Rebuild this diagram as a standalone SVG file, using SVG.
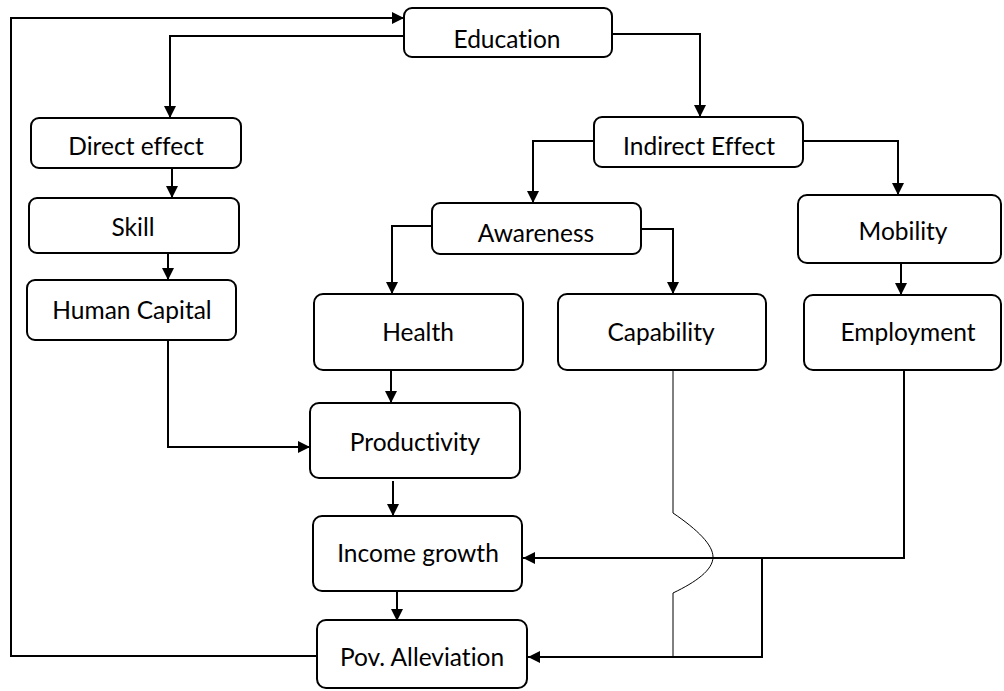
<svg xmlns="http://www.w3.org/2000/svg" width="1004" height="691" viewBox="0 0 1004 691">
  <style>
    .box { fill: #ffffff; stroke: #000000; stroke-width: 2; }
    .label { font-family: Lato, "Open Sans", "Liberation Sans", sans-serif; font-size: 24.5px; fill: #000000; text-anchor: middle; font-variant-ligatures: none; font-feature-settings: "liga" 0, "clig" 0; }
    .link { fill: none; stroke: #000000; stroke-width: 2; }
    .thin { fill: none; stroke: #000000; stroke-width: 1; }
  </style>
  <defs>
    <marker id="arrow" viewBox="0 0 12 12" refX="12" refY="6" markerWidth="12" markerHeight="12" markerUnits="userSpaceOnUse" orient="auto">
      <path d="M0,0 L12,6 L0,12 z" fill="#000000"/>
    </marker>
  </defs>

  <rect width="1004" height="691" fill="#ffffff"/>

  <!-- connectors -->
  <g id="connectors">
    <polyline class="link" points="317,656 11,656 11,18 404,18" marker-end="url(#arrow)"/>
    <polyline class="link" points="404,36 170,36 170,118" marker-end="url(#arrow)"/>
    <polyline class="link" points="612,34 700,34 700,117" marker-end="url(#arrow)"/>
    <polyline class="link" points="172,168 172,198" marker-end="url(#arrow)"/>
    <polyline class="link" points="168,253 168,280" marker-end="url(#arrow)"/>
    <polyline class="link" points="168,340 168,447 310,447" marker-end="url(#arrow)"/>
    <polyline class="link" points="594,141 533,141 533,203" marker-end="url(#arrow)"/>
    <polyline class="link" points="803,141 898,141 898,195" marker-end="url(#arrow)"/>
    <polyline class="link" points="432,226 392,226 392,294" marker-end="url(#arrow)"/>
    <polyline class="link" points="641,229 673,229 673,294" marker-end="url(#arrow)"/>
    <polyline class="link" points="901,263 901,295" marker-end="url(#arrow)"/>
    <polyline class="link" points="391,370 391,403" marker-end="url(#arrow)"/>
    <polyline class="link" points="393,481 393,516" marker-end="url(#arrow)"/>
    <polyline class="link" points="397,591 397,621" marker-end="url(#arrow)"/>
    <polyline class="link" points="904,370 904,558 523,558" marker-end="url(#arrow)"/>
    <polyline class="link" points="762,558 762,657 528,657" marker-end="url(#arrow)"/>
    <!-- capability line hops over the employment link -->
    <path class="thin" d="M673,370 L673,513 C698,530 713,545 713,557 C713,570 696,582 673,593 L673,657"/>
  </g>

  <!-- nodes -->
  <g id="education">
    <rect class="box" x="404" y="8" width="208" height="49" rx="8"/>
    <text class="label" x="507" y="48">Education</text>
  </g>
  <g id="direct-effect">
    <rect class="box" x="31" y="118" width="210" height="50" rx="8"/>
    <text class="label" x="136" y="155">Direct effect</text>
  </g>
  <g id="skill">
    <rect class="box" x="29" y="198" width="210" height="55" rx="8"/>
    <text class="label" x="133" y="236">Skill</text>
  </g>
  <g id="human-capital">
    <rect class="box" x="27" y="280" width="209" height="60" rx="8"/>
    <text class="label" x="132" y="319">Human Capital</text>
  </g>
  <g id="indirect-effect">
    <rect class="box" x="594" y="117" width="209" height="50" rx="8"/>
    <text class="label" x="699" y="155">Indirect Effect</text>
  </g>
  <g id="awareness">
    <rect class="box" x="432" y="203" width="209" height="51" rx="8"/>
    <text class="label" x="536" y="242">Awareness</text>
  </g>
  <g id="mobility">
    <rect class="box" x="798" y="195" width="203" height="68" rx="9"/>
    <text class="label" x="903" y="240">Mobility</text>
  </g>
  <g id="health">
    <rect class="box" x="314" y="294" width="209" height="76" rx="9"/>
    <text class="label" x="418" y="341">Health</text>
  </g>
  <g id="capability">
    <rect class="box" x="558" y="294" width="208" height="76" rx="9"/>
    <text class="label" x="661" y="341">Capability</text>
  </g>
  <g id="employment">
    <rect class="box" x="804" y="295" width="197" height="75" rx="9"/>
    <text class="label" x="908" y="341">Employment</text>
  </g>
  <g id="productivity">
    <rect class="box" x="310" y="403" width="210" height="75" rx="9"/>
    <text class="label" x="415" y="451">Productivity</text>
  </g>
  <g id="income-growth">
    <rect class="box" x="313" y="516" width="209" height="75" rx="9"/>
    <text class="label" x="418" y="562">Income growth</text>
  </g>
  <g id="pov-alleviation">
    <rect class="box" x="317" y="620" width="210" height="68" rx="9"/>
    <text class="label" x="422" y="666">Pov. Alleviation</text>
  </g>
</svg>
